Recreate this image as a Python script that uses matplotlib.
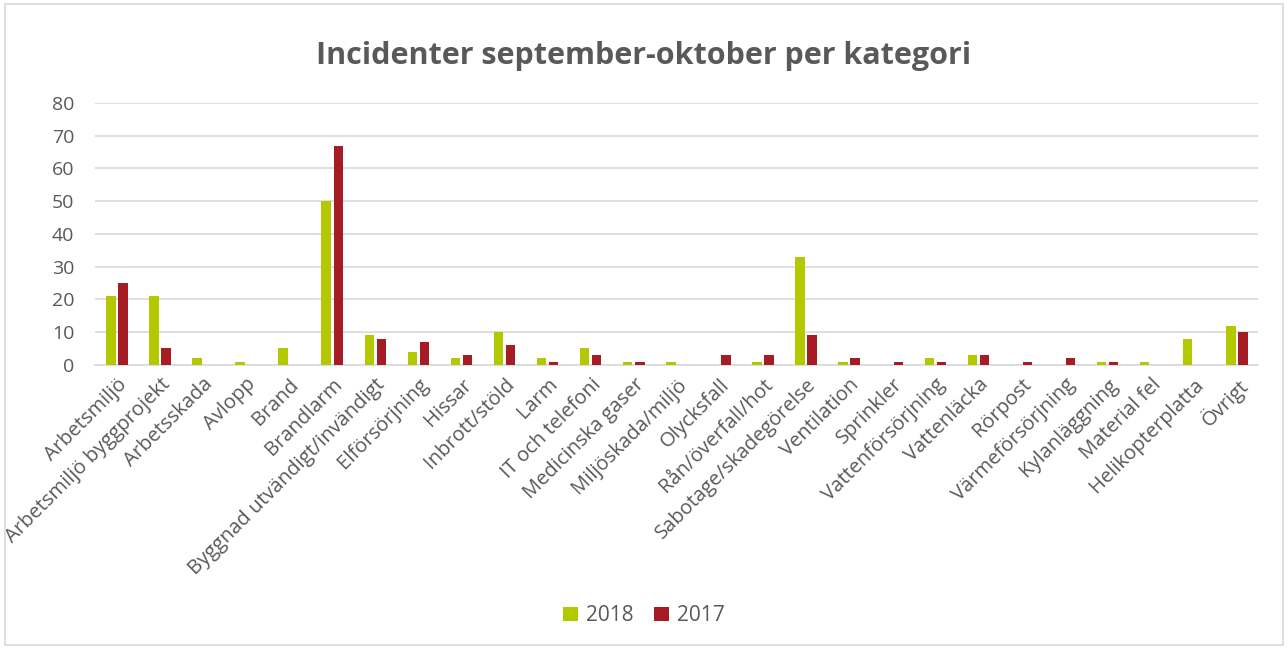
import matplotlib.pyplot as plt
import numpy as np
from matplotlib.patches import Rectangle

kategorier = ["Arbetsmiljö", "Arbetsmiljö byggprojekt", "Arbetsskada", "Avlopp", "Brand",
              "Brandlarm", "Byggnad utvändigt/invändigt", "Elförsörjning", "Hissar",
              "Inbrott/stöld", "Larm", "IT och telefoni", "Medicinska gaser",
              "Miljöskada/miljö", "Olycksfall", "Rån/överfall/hot", "Sabotage/skadegörelse",
              "Ventilation", "Sprinkler", "Vattenförsörjning", "Vattenläcka", "Rörpost",
              "Värmeförsörjning", "Kylanläggning", "Material fel", "Helikopterplatta", "Övrigt"]
v2018 = [21, 21, 2, 1, 5, 50, 9, 4, 2, 10, 2, 5, 1, 1, 0, 1, 33, 1, 0, 2, 3, 0, 0, 1, 1, 8, 12]
v2017 = [25, 5, 0, 0, 0, 67, 8, 7, 3, 6, 1, 3, 1, 0, 3, 3, 9, 2, 1, 1, 3, 1, 2, 1, 0, 0, 10]

plt.rcParams['font.family'] = ['Open Sans', 'DejaVu Sans']
grey = "#595959"
green = "#B4C800"
red = "#A51C24"

fig = plt.figure(figsize=(12.88, 6.48), dpi=100)
fig.patches.append(Rectangle((0.004, 0.004), 0.992, 0.99, transform=fig.transFigure,
                             fill=False, edgecolor="#D9D9D9", linewidth=1.2))
ax = fig.add_axes([0.074, 0.437, 0.903, 0.404])

x = np.arange(len(kategorier))
w = 0.22
ax.bar(x - 0.14, v2018, w, color=green, label="2018", zorder=3)
ax.bar(x + 0.14, v2017, w, color=red, label="2017", zorder=3)

ax.set_xlim(-0.5, len(kategorier) - 0.5)
ax.set_ylim(0, 80)
ax.set_yticks(range(0, 81, 10))
ax.yaxis.grid(True, color="#D9D9D9", linewidth=1.2, zorder=0)
for s in ["top", "right", "left"]:
    ax.spines[s].set_visible(False)
ax.spines["bottom"].set_color("#D9D9D9")
ax.spines["bottom"].set_linewidth(1.2)
ax.tick_params(axis="both", length=0, colors=grey)
ax.tick_params(axis="y", labelsize=14, pad=15)
ax.set_xticks(x)
ax.set_xticklabels(kategorier, rotation=45, ha="right", rotation_mode="anchor", color=grey,
                   fontsize=14.5)
ax.tick_params(axis="x", pad=7)

fig.text(0.5, 0.914, "Incidenter september-oktober per kategori", ha="center", va="center",
         fontsize=22, fontweight="bold", color=grey)
fig.legend(loc="center", bbox_to_anchor=(0.5, 0.05), ncol=2, frameon=False,
           fontsize=15, labelcolor=grey, handlelength=0.7, handleheight=0.7,
           columnspacing=1.0, handletextpad=0.4)

fig.savefig("out.png", dpi=100)
